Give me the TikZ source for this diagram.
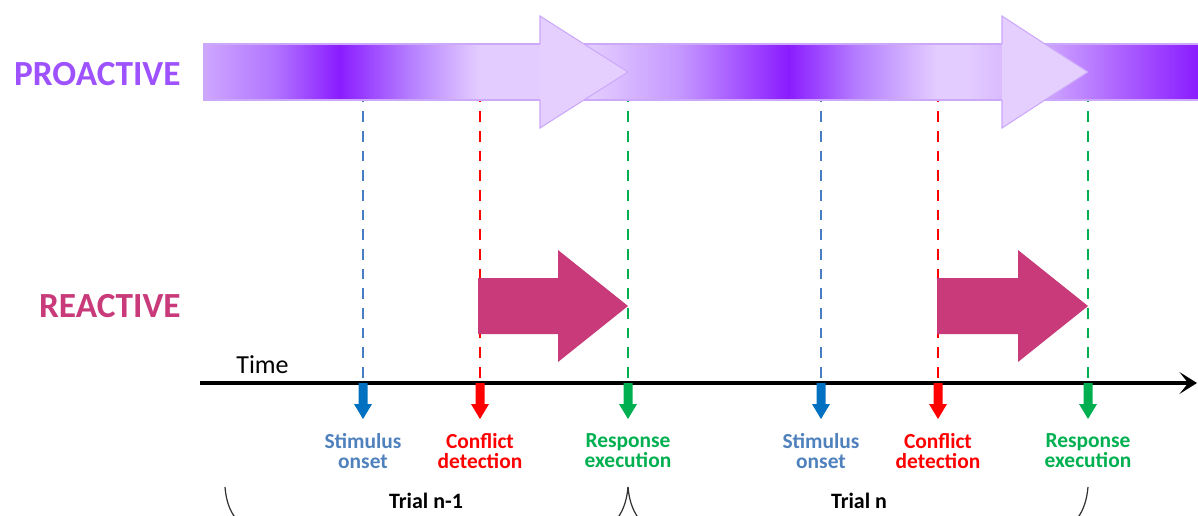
\documentclass[tikz,border=0pt]{standalone}
\usepackage{fontspec}
\setmainfont{Carlito}
\usetikzlibrary{arrows.meta, positioning}

\definecolor{proStart}{RGB}{206,166,255}
\definecolor{proA}{RGB}{178,118,255}
\definecolor{proDark}{RGB}{138,28,255}
\definecolor{proB}{RGB}{180,125,255}
\definecolor{proC}{RGB}{196,150,255}
\definecolor{proLight}{RGB}{227,204,255}
\definecolor{proHead}{RGB}{229,207,255}
\definecolor{proEdge}{RGB}{204,168,250}
\definecolor{proText}{RGB}{158,82,255}
\definecolor{reaPink}{RGB}{200,58,122}
\definecolor{stimBlue}{RGB}{0,112,192}
\definecolor{stimText}{RGB}{79,129,189}
\definecolor{stimDash}{RGB}{70,125,195}
\definecolor{confRed}{RGB}{255,0,0}
\definecolor{respGreen}{RGB}{0,176,80}

\pgfdeclarehorizontalshading{proband}{100bp}{color(0bp)=(proStart); color(25bp)=(proStart);
  color(28.5bp)=(proA); color(31.8bp)=(proDark); color(35.3bp)=(proB); color(38.8bp)=(proLight);
  color(44.5bp)=(proLight); color(49bp)=(proC); color(54.4bp)=(proDark); color(57.8bp)=(proB);
  color(61.8bp)=(proLight); color(63.4bp)=(proLight); color(67.3bp)=(proStart);
  color(75bp)=(proDark); color(100bp)=(proDark)}

\begin{document}
\begin{tikzpicture}[x=0.02cm, y=-0.02cm,
  evline/.style={line width=1.4pt, dash pattern=on 6pt off 5.2pt},
  evlabel/.style={font=\bfseries\fontsize{12.2}{11.4}\selectfont, align=center, anchor=north, inner sep=0pt},
  rowlabel/.style={font=\bfseries\fontsize{20.1}{24}\selectfont, anchor=base east, inner sep=0pt},
  trial/.style={font=\bfseries\fontsize{12.5}{15}\selectfont, anchor=base, inner sep=0pt},
  braceline/.style={line width=0.7pt, black!80}]

\useasboundingbox (0,0) rectangle (1198,515);
\clip (0,0) rectangle (1198,515);

% Event positions
\foreach \i/\x/\col in {1/363/stimDash, 2/480/confRed, 3/628/respGreen, 4/821/stimDash, 5/938/confRed, 6/1088/respGreen} {
  \coordinate (evtop\i) at (\x,72);
  \coordinate (ev\i) at (\x,383);
  \draw[evline, \col] (evtop\i) -- (ev\i);
}

% Proactive band
\shade[shading=proband] (204,44) rectangle (1198,100);
\draw[proEdge, line width=0.6pt] (1198,44) -- (204,44) -- (204,100) -- (1198,100);
\foreach \x/\tip in {540/628, 1002/1088} {
  \path[fill=proHead, draw=proEdge, line width=0.6pt] (\x,44) -- (\x,16) -- (\tip,72) -- (\x,128) -- (\x,100);
}

% Reactive arrows
\foreach \x/\tip in {478/628, 937/1088} {
  \fill[reaPink] (\x,278) -- (\tip-70,278) -- (\tip-70,250) -- (\tip,306) -- (\tip-70,362) -- (\tip-70,334) -- (\x,334) -- cycle;
}

% Time axis
\coordinate (t0) at (200,383);
\coordinate (t1) at (1197,383);
\draw[line width=2.1pt, -{Stealth[length=10pt, width=12.5pt, inset=5pt]}] (t0) -- (t1);
\node[font=\fontsize{14.8}{18}\selectfont, anchor=base west, inner sep=0pt] (time) at (236,373) {Time};

% Event markers and labels
\foreach \i/\col/\tcol/\txt in {1/stimBlue/stimText/{Stimulus\\onset}, 2/confRed/confRed/{Conflict\\detection},
  3/respGreen/respGreen/{Response\\execution}, 4/stimBlue/stimText/{Stimulus\\onset},
  5/confRed/confRed/{Conflict\\detection}, 6/respGreen/respGreen/{Response\\execution}} {
  \fill[\col, shift={(ev\i)}] (-4.5,0) -- (-4.5,21) -- (-9,21) -- (0,36) -- (9,21) -- (4.5,21) -- (4.5,0) -- cycle;
  \path (ev\i) ++(0,50) node[evlabel, \tcol] (lab\i) {\txt};
}

% Row labels
\node[rowlabel, proText] (pro) at (181,85) {PROACTIVE};
\node[rowlabel, reaPink] (rea) at (181,317) {REACTIVE};

% Trials
\node[trial] (trial1) at (426,508) {Trial n-1};
\node[trial] (trial2) at (859,508) {Trial n};
\draw[braceline] (225,487) .. controls (227,512) and (238,530) .. (265,532) -- (395,532)
  .. controls (415,532) and (424,540) .. (426,555);
\draw[braceline] (628,487) .. controls (626,510) and (616,530) .. (590,532) -- (457,532)
  .. controls (437,532) and (428,540) .. (426,555);
\draw[braceline] (628,487) .. controls (630,510) and (640,530) .. (666,532) -- (828,532)
  .. controls (848,532) and (857,540) .. (859,555);
\draw[braceline] (1088,487) .. controls (1086,510) and (1076,530) .. (1050,532) -- (890,532)
  .. controls (870,532) and (861,540) .. (859,555);
\end{tikzpicture}
\end{document}
